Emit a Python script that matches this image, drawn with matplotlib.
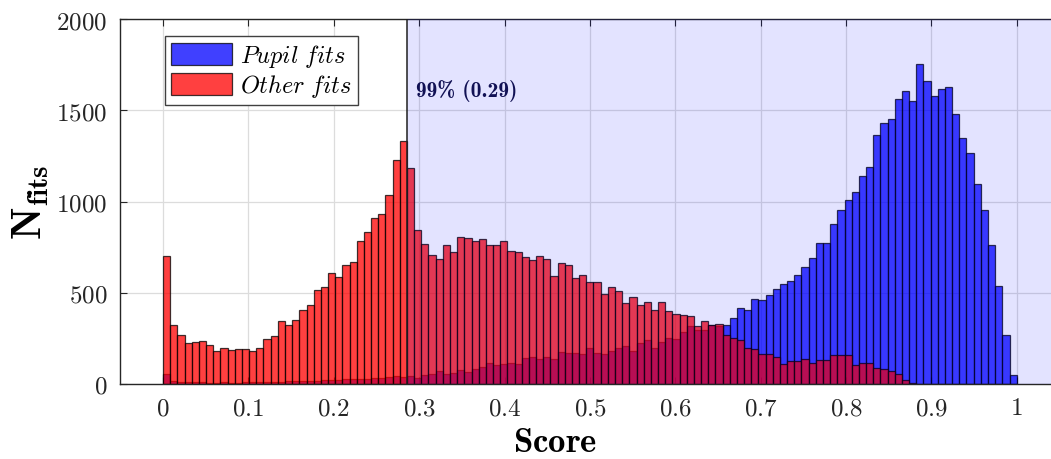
import numpy as np
import matplotlib
matplotlib.use("Agg")
import matplotlib.pyplot as plt

plt.rcParams['mathtext.fontset'] = 'cm'
plt.rcParams['font.family'] = ['DejaVu Serif']

# 119 bins between 0 and 1
edges = np.linspace(0, 1, 120)

# Other fits (red), bins 0..104, rest empty
other_counts = [700, 322, 266, 225, 229, 234, 214, 183, 199, 189,
                194, 192, 179, 199, 244, 261, 347, 326, 350, 408,
                432, 517, 531, 610, 586, 651, 667, 783, 832, 911,
                930, 1033, 1226, 1331, 1183, 845, 766, 707, 687, 759,
                726, 806, 802, 781, 797, 764, 760, 784, 731, 726,
                695, 680, 704, 686, 590, 664, 653, 581, 600, 559,
                559, 495, 532, 510, 444, 477, 435, 450, 404, 452,
                400, 384, 378, 371, 320, 345, 325, 327, 266, 251,
                240, 200, 190, 165, 163, 147, 108, 128, 128, 139,
                115, 130, 130, 159, 158, 158, 106, 115, 117, 86,
                82, 70, 53, 20, 5] + [0] * 14

# Pupil fits (blue)
pupil_counts = [55, 18, 12, 10, 10, 10, 8, 8, 10, 8,
                8, 10, 10, 12, 12, 12, 12, 14, 15, 15,
                18, 18, 20, 22, 22, 25, 28, 30, 28, 32,
                35, 38, 42, 40, 46, 35, 49, 57, 71, 53,
                60, 75, 68, 80, 93, 113, 104, 112, 115, 112,
                141, 146, 137, 150, 135, 177, 170, 170, 165, 196,
                172, 166, 181, 196, 207, 183, 223, 241, 196, 232,
                252, 247, 283, 320, 294, 294, 322, 320, 326, 361,
                414, 405, 465, 460, 485, 520, 546, 562, 599, 639,
                692, 775, 775, 875, 956, 1007, 1053, 1137, 1187, 1364,
                1430, 1451, 1564, 1604, 1549, 1755, 1661, 1579, 1615, 1626,
                1478, 1350, 1264, 1095, 952, 762, 537, 266, 48]

threshold = 34 / 119
xticks = [0, 0.1, 0.2, 0.3, 0.4, 0.5, 0.6, 0.7, 0.8, 0.9, 1]
yticks = [0, 500, 1000, 1500, 2000]

fig = plt.figure(figsize=(10.51, 4.6), dpi=100)
ax = fig.add_axes([120 / 1051, 75 / 460, 939.4 / 1051, 365 / 460])

centers = (edges[:-1] + edges[1:]) / 2
ax.hist(centers, bins=edges, weights=pupil_counts, color='blue', alpha=0.75,
        edgecolor='black', linewidth=0.9, label=r'$Pupil\ fits$', zorder=2)
ax.hist(centers, bins=edges, weights=other_counts, color='red', alpha=0.75,
        edgecolor='black', linewidth=0.9, label=r'$Other\ fits$', zorder=2)

# threshold region
ax.axvspan(threshold, 1.1, color='blue', alpha=0.11, lw=0, zorder=3)
ax.axvline(threshold, color='#202020', lw=1.1, zorder=4)
ax.text(threshold + 0.0105, 1610, '99% (0.29)', family='cmb10', fontsize=15.5,
        color='#141440', va='center', ha='left', zorder=2.5)

ax.set_xlim(-0.0504, 1.05)
ax.set_ylim(0, 2000)
ax.set_xticks(xticks)
ax.set_xticklabels([f'${v:g}$' for v in xticks], fontsize=18)
ax.set_yticks(yticks)
ax.set_yticklabels([f'${v}$' for v in yticks], fontsize=18)
ax.tick_params(direction='in', top=True, right=True, length=5, width=0.8,
               colors='#262626', pad=9)
ax.grid(True, color='#dcdcdc', lw=0.9)
ax.set_axisbelow(True)
for s in ax.spines.values():
    s.set_color('#262626')
    s.set_linewidth(1.0)

ax.set_xlabel(r'$\mathbf{Score}$', fontsize=25)
ax.xaxis.set_label_coords((555 - 120) / 939.4, -0.11)
ax.set_ylabel(r'$\mathbf{N_{fits}}$', fontsize=30)
ax.yaxis.set_label_coords(-0.073, 0.5)

leg = ax.legend(loc='upper left', bbox_to_anchor=(0.048, 0.953), fontsize=17.5,
                fancybox=False, framealpha=1, edgecolor='#404040',
                borderpad=0.25, handlelength=2.5, handleheight=1.05,
                handletextpad=0.35, labelspacing=0.12, borderaxespad=0)
leg.get_frame().set_linewidth(1.0)
leg.set_zorder(5)

fig.savefig('out.png', dpi=100)
